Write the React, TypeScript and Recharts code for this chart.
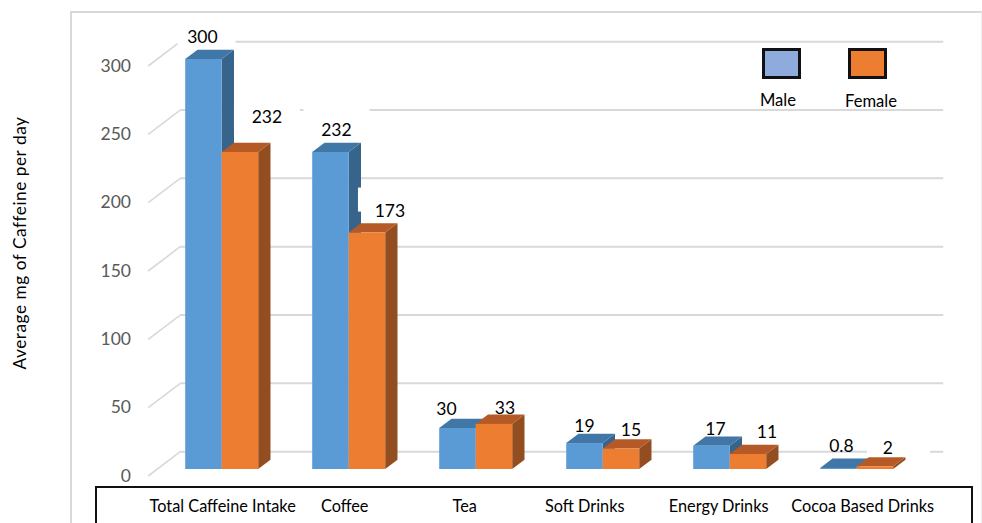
import React from "react";
import { BarChart, Bar, XAxis, YAxis, CartesianGrid, LabelList, Legend } from "recharts";

const categories = ["Total Caffeine Intake", "Coffee", "Tea", "Soft Drinks", "Energy Drinks", "Cocoa Based Drinks"];
const maleValues = [300, 232, 30, 19, 17, 0.8];
const femaleValues = [232, 173, 33, 15, 11, 2];
const maleText = ["300", "232", "30", "19", "17", "0.8"];
const femaleText = ["232", "173", "33", "15", "11", "2"];
const yTicks = [0, 50, 100, 150, 200, 250, 300];
const legendItems = [
  { name: "Male", fill: "#8FAADC" },
  { name: "Female", fill: "#ED7D31" },
];

const rows = categories.map((category, i) => ({ category, male: maleValues[i], female: femaleValues[i] }));

// Styling and layout constants
const FONT = "Lato, 'Open Sans', sans-serif";
const DX = 12.3;
const DY = 9.3;
const GRID = "#D9D9D9";
const categoryNudge = [1, -4, -11, -18, -11, 6];
const maleLabelOffset = [[-1, -22], [6, -22], [-11, -19], [0, -17], [4, -17], [3, -22]];
const femaleLabelOffset = [[27, -35], [23, -22], [11, -16], [10, -19], [19, -22], [13, -19]];
// white label boxes that interrupt the wall lines: [left, top, width, height] from the label centre
const maleBox = [[-25, -9, 58, 16], [-33, -25, 66, 23], null, null, null, null];
const femaleBox = [[-33, -12, 66, 23], [-32, -23, 65, 24], null, null, null, [-21, 0, 63, 10]];

function bar3d(front: string, top: string, side: string) {
  return (p: any) => {
    const { x, y, width: w, height: h } = p;
    const base = y + h;
    return (
      <g>
        <polygon points={`${x + w},${y} ${x + w + DX},${y - DY} ${x + w + DX},${base - DY} ${x + w},${base}`} fill={side} />
        <polygon points={`${x},${y} ${x + DX},${y - DY} ${x + w + DX},${y - DY} ${x + w},${y}`} fill={top} />
        <rect x={x} y={y} width={w} height={h} fill={front} />
      </g>
    );
  };
}

function dataLabel(texts: string[], offsets: number[][], boxes: (number[] | null)[]) {
  return (p: any) => {
    const i = p.index;
    const cx = p.x + p.width / 2 + offsets[i][0];
    const cy = p.y + offsets[i][1];
    const b = boxes[i];
    return (
      <g>
        {b && <rect x={cx + b[0]} y={cy + b[1]} width={b[2]} height={b[3]} fill="#fff" />}
        <text x={cx} y={cy} dy="0.36em" textAnchor="middle" fontFamily={FONT} fontSize={17.5} fill="#000">
          {texts[i]}
        </text>
      </g>
    );
  };
}

const wallLine = (p: any) => {
  const { x1, x2, y1 } = p;
  return (
    <g key={p.key}>
      <line x1={x1 - 10} y1={y1 + 7} x2={x1 + 22} y2={y1 - 17.3} stroke={GRID} strokeWidth={1.6} />
      <line x1={x1 + 22} y1={y1 - 17.3} x2={x2 + 23} y2={y1 - 17.3} stroke={GRID} strokeWidth={2} />
    </g>
  );
};

const yTick = (p: any) => (
  <text key={p.payload.value} x={131} y={p.y + 5.5} dy="0.4em" textAnchor="end" fontFamily={FONT} fontSize={17.5} fill="#595959">
    {p.payload.value}
  </text>
);

const xTick = (p: any) => (
  <text key={p.payload.value} x={p.x + categoryNudge[p.index]} y={512} textAnchor="middle" fontFamily={FONT} fontSize={16.3} fill="#000">
    {p.payload.value}
  </text>
);

const yTitle = () => (
  <text transform="translate(26,243) rotate(-90)" textAnchor="middle" fontFamily={FONT} fontSize={17.2} letterSpacing={0.55} fill="#000">
    Average mg of Caffeine per day
  </text>
);

const legendBoxes = () => (
  <div style={{ position: "relative", width: 0, height: 0 }}>
    {legendItems.map((item, i) => (
      <React.Fragment key={item.name}>
        <div
          style={{
            position: "absolute",
            left: 762 + i * 86,
            top: 48,
            width: 33,
            height: 25,
            background: item.fill,
            border: "3px solid #111",
          }}
        />
        <div
          style={{
            position: "absolute",
            left: 778 + i * 93 - 50,
            top: 90 + i,
            width: 100,
            textAlign: "center",
            fontFamily: FONT,
            fontSize: 16.6,
            lineHeight: "20px",
            color: "#000",
          }}
        >
          {item.name}
        </div>
      </React.Fragment>
    ))}
  </div>
);

export default function App() {
  return (
    <div style={{ position: "absolute", left: 0, top: 0, width: 982, height: 523, overflow: "hidden", background: "#fff" }}>
      <div style={{ position: "absolute", left: 70, top: 11, width: 912, height: 520, borderLeft: `2px solid ${GRID}`, borderTop: `2px solid ${GRID}`, borderRight: "1px solid #EDEDED", boxSizing: "border-box" }} />
      <div style={{ position: "absolute", left: 95, top: 486, width: 878, height: 60, border: "2px solid #111", boxSizing: "border-box" }} />
      <div style={{ position: "absolute", left: 0, top: 0 }}>
        <BarChart
          width={982}
          height={523}
          data={rows}
          barGap={0}
          barCategoryGap={0}
          margin={{ top: 59, right: 61.8, bottom: 0, left: 98.2 }}
          style={{ background: "transparent" }}
        >
          <CartesianGrid vertical={false} horizontal={wallLine} />
          <XAxis dataKey="category" height={54} axisLine={false} tickLine={false} interval={0} padding={{ left: 0, right: 0 }} tick={xTick} />
          <YAxis width={60} domain={[0, 300]} ticks={yTicks} axisLine={false} tickLine={false} tick={yTick} label={yTitle} />
          <Legend layout="vertical" align="center" verticalAlign="middle" content={legendBoxes} wrapperStyle={{ position: "absolute", left: 0, top: 0, width: 0, height: 0 }} />
          <Bar dataKey="male" barSize={36.5} isAnimationActive={false} shape={bar3d("#5B9BD5", "#4177A6", "#36648A")}>
            <LabelList dataKey="male" content={dataLabel(maleText, maleLabelOffset, maleBox)} />
          </Bar>
          <Bar dataKey="female" barSize={36.5} isAnimationActive={false} shape={bar3d("#ED7D31", "#B55A26", "#924E20")}>
            <LabelList dataKey="female" content={dataLabel(femaleText, femaleLabelOffset, femaleBox)} />
          </Bar>
        </BarChart>
      </div>
    </div>
  );
}
